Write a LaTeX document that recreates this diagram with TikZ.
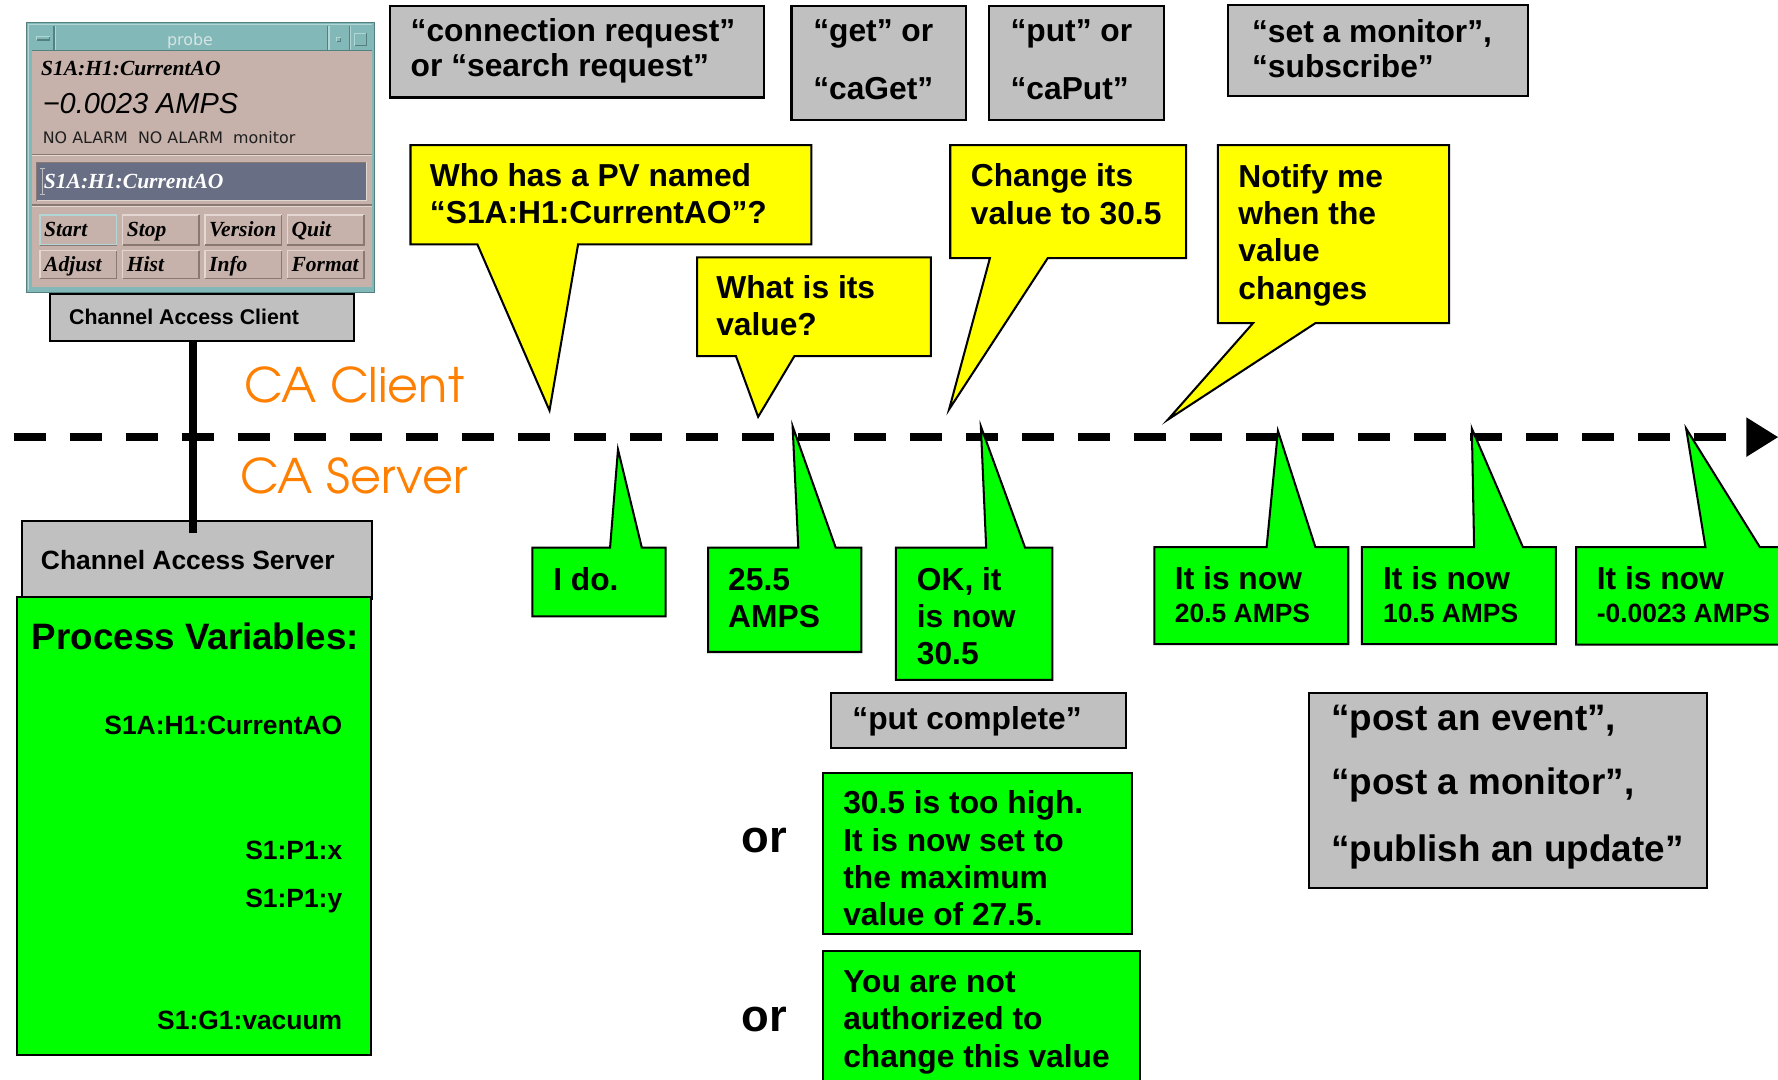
\documentclass[tikz,border=0pt]{standalone}
\usepackage{fontspec}
\setmainfont{Liberation Sans}
\newfontfamily\lsans{Liberation Sans}
\newfontfamily\lserif{Liberation Serif}
\newfontfamily\dvsans{DejaVu Sans}
\newfontfamily\adv{texgyreadventor-regular}[Extension=.otf]
\definecolor{boxgray}{RGB}{192,192,192}
\definecolor{cyel}{RGB}{255,255,0}
\definecolor{cgrn}{RGB}{0,255,0}
\definecolor{caorange}{RGB}{255,128,0}
\definecolor{pteal}{RGB}{130,184,184}
\definecolor{ptealhi}{RGB}{178,214,214}
\definecolor{ptealdk}{RGB}{84,128,128}
\definecolor{pbody}{RGB}{198,178,170}
\definecolor{pbodyhi}{RGB}{228,214,208}
\definecolor{pbodydk}{RGB}{138,120,114}
\definecolor{pfield}{RGB}{104,110,132}
\definecolor{ptitle}{RGB}{214,228,228}
\newcommand\ycallout[8]{\draw[ycall] (#1,#2) -- (#3,#2) -- (#3,#4) -- (#6,#4) -- (#7,#8) -- (#5,#4) -- (#1,#4) -- cycle;}
\newcommand\gcallout[8]{\draw[gcall] (#1,#2) -- (#5,#2) -- (#7,#8) -- (#6,#2) -- (#3,#2) -- (#3,#4) -- (#1,#4) -- cycle;}
\newcommand\pbtn[7]{%
  \fill[pbody] (#1,#2) rectangle (#3,#4);
  \draw[pbodyhi, line width=1.3pt] (#1,#4) -- (#1,#2) -- (#3,#2);
  \draw[pbodydk, line width=1.3pt] (#3,#2) -- (#3,#4) -- (#1,#4);
  \node[btntxt] (#5) at ({#1+3.5},#7) {#6};}
\begin{document}
\begin{tikzpicture}[x=1pt, y=-1pt, line join=miter,
  gbox/.style={fill=boxgray, draw=black, line width=1.8pt},
  ycall/.style={fill=cyel, draw=black, line width=1.8pt},
  gcall/.style={fill=cgrn, draw=black, line width=1.8pt},
  tx/.style={anchor=base west, inner sep=0pt},
  t28/.style={tx, font=\lsans\bfseries\fontsize{28}{32}\selectfont},
  t23/.style={tx, font=\lsans\bfseries\fontsize{23.3}{27}\selectfont},
  t32/.style={tx, font=\lsans\bfseries\fontsize{32.5}{38}\selectfont},
  t40/.style={tx, font=\lsans\bfseries\fontsize{40}{46}\selectfont},
  t19/.style={tx, font=\lsans\bfseries\fontsize{18.8}{22}\selectfont},
  pvr/.style={anchor=base east, inner sep=0pt, font=\lsans\bfseries\fontsize{23.3}{27}\selectfont},
  catxt/.style={tx, text=caorange, font=\adv\fontsize{42}{48}\selectfont},
  btntxt/.style={tx, font=\lserif\bfseries\itshape\fontsize{19}{22}\selectfont},
]
\useasboundingbox (0,0) rectangle (1568,952);
\fill[white] (0,0) rectangle (1568,952);

% ---------------- time line ----------------
\coordinate (tls) at (12,385.5);
\coordinate (tle) at (1522.2,385.5);
\coordinate (tip) at (1568,385.5);
\draw[line width=7pt, dash pattern=on 28.2pt off 21.2pt] (tls) -- (tle);
\fill (1540,368) -- (tip) -- (1540,403) -- cycle;

% ---------------- probe window ----------------
\draw[fill=pteal, draw=ptealdk, line width=0.8pt] (23.5,20) rectangle (330,257.5);
\draw[ptealhi, line width=1.2pt] (25.2,256) -- (25.2,21.6) -- (328.4,21.6);
\draw[ptealhi, line width=1pt] (48.8,22.5) -- (48.8,44);
\draw[ptealdk, line width=1pt] (47.6,22.5) -- (47.6,44);
\draw[ptealdk, line width=1pt] (288.9,22.5) -- (288.9,44);
\draw[ptealhi, line width=1pt] (290.1,22.5) -- (290.1,44);
\draw[ptealdk, line width=1pt] (308.1,22.5) -- (308.1,44);
\draw[ptealhi, line width=1pt] (309.3,22.5) -- (309.3,44);
\draw[ptealhi, line width=1pt] (32.4,35.3) -- (32.4,32.4) -- (44,32.4);
\draw[ptealdk, line width=1pt] (44,32.4) -- (44,35.3) -- (32.4,35.3);
\draw[ptealhi, line width=0.9pt] (297,36.2) -- (297,33.2) -- (300.6,33.2);
\draw[ptealdk, line width=0.9pt] (300.6,33.2) -- (300.6,36.2) -- (297,36.2);
\draw[ptealhi, line width=1pt] (313,40.3) -- (313,29.4) -- (323.4,29.4);
\draw[ptealdk, line width=1pt] (323.4,29.4) -- (323.4,40.3) -- (313,40.3);
\node[anchor=base, inner sep=0pt, text=ptitle, font=\dvsans\fontsize{14}{16}\selectfont] (ptitle) at (167.6,39.7) {probe};
\fill[pbody] (28.5,44.6) rectangle (327.8,253.4);
\draw[ptealdk, line width=0.8pt] (28.5,44.6) -- (327.8,44.6);
\node[btntxt] (pname) at (36,67) {S1A:H1:CurrentAO};
\node[tx, font=\lsans\itshape\fontsize{25.5}{30}\selectfont] (pval) at (37.6,100) {−0.0023 AMPS};
\node[tx, text=black!88, font=\dvsans\fontsize{14}{16}\selectfont] (palarm) at (37.6,126.4) {NO ALARM\ \ NO ALARM\ \ monitor};
\draw[pbodydk, line width=1pt] (28.5,136.2) -- (327.8,136.2);
\draw[pbodyhi, line width=1pt] (28.5,137.4) -- (327.8,137.4);
\draw[fill=pfield, draw=pbodydk, line width=0.9pt] (32.3,143.1) rectangle (323.4,176.4);
\draw[pbodyhi, line width=0.9pt] (32.3,176.4) -- (323.4,176.4) -- (323.4,143.1);
\draw[black!25, line width=0.8pt] (37.3,148.5) -- (37.3,171.5) (35.3,148.5) -- (39.3,148.5) (35.3,171.5) -- (39.3,171.5);
\node[btntxt, text=white] (pfieldtxt) at (38.5,166) {S1A:H1:CurrentAO};
\draw[pbodydk, line width=1pt] (28.5,180.8) -- (327.8,180.8);
\draw[pbodyhi, line width=1pt] (28.5,182) -- (327.8,182);
\pbtn{35.3}{189.6}{102.9}{216}{bstart}{Start}{208.7}
\draw[ptealhi, line width=1pt] (35.3,189.6) rectangle (102.9,216);
\pbtn{108.2}{189.6}{175.5}{216}{bstop}{Stop}{208.7}
\pbtn{180.8}{189.6}{248.4}{216}{bversion}{Version}{208.7}
\pbtn{253.4}{189.6}{321}{216}{bquit}{Quit}{208.7}
\pbtn{35.3}{221}{102.9}{245.4}{badjust}{Adjust}{239.6}
\pbtn{108.2}{221}{175.5}{245.4}{bhist}{Hist}{239.6}
\pbtn{180.8}{221}{248.4}{245.4}{binfo}{Info}{239.6}
\pbtn{253.4}{221}{321}{245.4}{bformat}{Format}{239.6}

% ---------------- client / server ----------------
\node[gbox, anchor=north west, minimum width=268.4pt, minimum height=41.1pt, inner sep=0pt] (cac) at (43.2,258.7) {};
\node[t19] (cactxt) at (60.8,286.6) {Channel Access Client};
\node[gbox, anchor=north west, minimum width=308.8pt, minimum height=68.4pt, inner sep=0pt] (cas) at (18.2,458.6) {};
\node[t23] (castxt) at (35.9,502) {Channel Access Server};
\draw[gcall] (14.7,526.9) rectangle (327,930);
\node[t32, font=\lsans\bfseries\fontsize{32.4}{38}\selectfont] (pvhead) at (28,572.5) {Process Variables:};
\node[pvr] (pv1) at (302,647.5) {S1A:H1:CurrentAO};
\node[pvr] (pv2) at (302,757.6) {S1:P1:x};
\node[pvr] (pv3) at (302,800) {S1:P1:y};
\node[pvr] (pv4) at (302,907.6) {S1:G1:vacuum};
\coordinate (vx) at (170.3,0);
\coordinate (vend) at (170.3,470);
\draw[line width=6.5pt] (cac.south -| vx) -- (vend);

\node[catxt] (caclient) at (215,355) {CA Client};
\node[catxt] (caserver) at (211.6,435) {CA Server};

% ---------------- top gray boxes ----------------
\draw[gbox] (343.6,5.3) rectangle (673.7,86);
\node[t28] (conn1) at (362,36.8) {“connection request”};
\node[t28] (conn2) at (362,67.5) {or “search request”};
\draw[gbox] (698,5.3) rectangle (852,106);
\node[t28] (get1) at (717,36.8) {“get” or};
\node[t28] (get2) at (717,88) {“caGet”};
\draw[gbox] (872,5.3) rectangle (1026.5,106);
\node[t28] (put1) at (891,36.8) {“put” or};
\node[t28] (put2) at (891,88) {“caPut”};
\draw[gbox] (1083,4.4) rectangle (1347.5,85);
\node[t28] (mon1) at (1104,37.5) {“set a monitor”,};
\node[t28] (mon2) at (1104,68.5) {“subscribe”};

% ---------------- yellow callouts ----------------
\ycallout{362}{128}{715.5}{215.5}{421}{509.8}{484.6}{362}
\node[t28] (ya1) at (379,164.6) {Who has a PV named};
\node[t28] (ya2) at (379,197) {“S1A:H1:CurrentAO”?};
\ycallout{614.7}{227}{821}{314}{649}{700.6}{668.6}{367.6}
\node[t28] (yb1) at (631.5,263) {What is its};
\node[t28] (yb2) at (631.5,295.5) {value?};
\ycallout{838}{128}{1046}{227.6}{873}{924}{837}{361}
\node[t28] (yc1) at (856,164.6) {Change its};
\node[t28] (yc2) at (856,197.6) {value to 30.5};
\ycallout{1074}{128}{1278}{285}{1105}{1160}{1030}{370}
\node[t28] (yd1) at (1092,165) {Notify me};
\node[t28] (yd2) at (1092,197.8) {when the};
\node[t28] (yd3) at (1092,230.8) {value};
\node[t28] (yd4) at (1092,264.4) {changes};

% ---------------- green callouts ----------------
\gcallout{469.5}{483}{587}{543.5}{538}{566}{545}{396.5}
\node[t28] (ge1) at (487.7,520.5) {I do.};
\gcallout{624.5}{483}{759.7}{575}{704}{737}{699}{376}
\node[t28] (gf1) at (642,520.5) {25.5};
\node[t28] (gf2) at (642,553) {AMPS};
\gcallout{790}{483}{928}{599.5}{869.7}{904}{865}{376}
\node[t28] (gg1) at (808.4,520.5) {OK, it};
\node[t28] (gg2) at (808.4,553) {is now};
\node[t28] (gg3) at (808.4,586) {30.5};
\gcallout{1018}{482.5}{1189}{568}{1117}{1160}{1127}{380}
\node[t28] (gh1) at (1036,520) {It is now};
\node[t23] (gh2) at (1036,548.6) {20.5 AMPS};
\gcallout{1201}{482.5}{1372}{568}{1300}{1343}{1298}{378}
\node[t28] (gi1) at (1219.5,520) {It is now};
\node[t23] (gi2) at (1219.5,548.6) {10.5 AMPS};
\gcallout{1390}{482.5}{1585}{568.5}{1504}{1552}{1487}{378}
\node[t28] (gj1) at (1408,520) {It is now};
\node[t23] (gj2) at (1408,548.6) {-0.0023 AMPS};

% ---------------- put results ----------------
\draw[gbox] (733,611) rectangle (993,660);
\node[t28] (putc) at (751.5,643.5) {“put complete”};
\node[t40] (or1) at (654,752) {or};
\node[t40] (or2) at (654,910) {or};
\draw[gcall] (725.4,681.5) rectangle (998.5,824);
\node[t28] (gk1) at (743.5,717.5) {30.5 is too high.};
\node[t28] (gk2) at (743.5,750.5) {It is now set to};
\node[t28] (gk3) at (743.5,783.5) {the maximum};
\node[t28] (gk4) at (743.5,816.5) {value of 27.5.};
\draw[gcall] (725.4,838.5) rectangle (1005,965);
\node[t28] (gl1) at (743.5,875) {You are not};
\node[t28] (gl2) at (743.5,908) {authorized to};
\node[t28] (gl3) at (743.5,941) {change this value};

% ---------------- monitor names ----------------
\draw[gbox] (1154,611) rectangle (1505,783);
\node[t32] (post1) at (1174,644) {“post an event”,};
\node[t32] (post2) at (1174,701) {“post a monitor”,};
\node[t32] (post3) at (1174,760) {“publish an update”};
\end{tikzpicture}
\end{document}
